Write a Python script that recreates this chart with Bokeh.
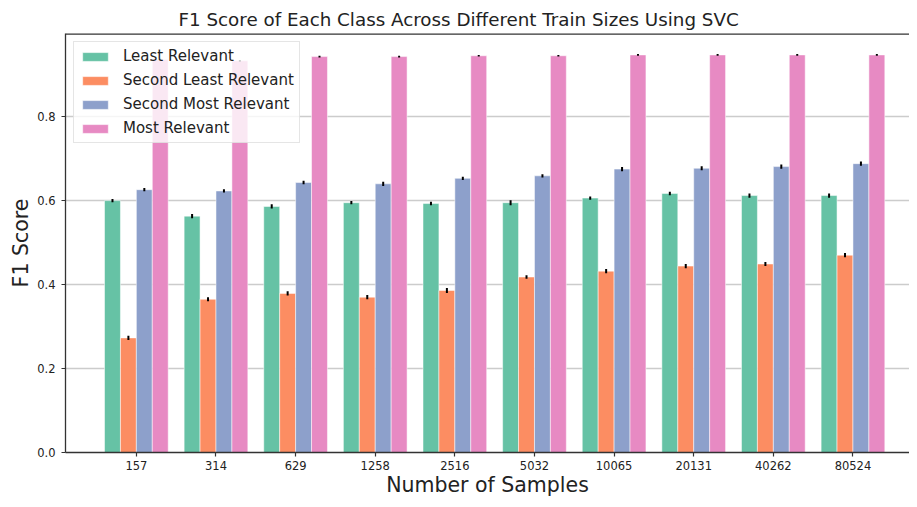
from bokeh.plotting import figure
from bokeh.models import Range1d, FixedTicker, Span, Legend
from bokeh.embed import file_html
from bokeh.resources import INLINE

categories = ["157", "314", "629", "1258", "2516", "5032", "10065", "20131", "40262", "80524"]
series_names = ["Least Relevant", "Second Least Relevant", "Second Most Relevant", "Most Relevant"]
least = [0.600, 0.563, 0.586, 0.595, 0.593, 0.595, 0.606, 0.617, 0.612, 0.612]
second_least = [0.273, 0.365, 0.379, 0.370, 0.386, 0.418, 0.432, 0.444, 0.449, 0.470]
second_most = [0.626, 0.623, 0.643, 0.640, 0.653, 0.659, 0.675, 0.677, 0.681, 0.688]
most = [0.936, 0.933, 0.943, 0.943, 0.945, 0.945, 0.947, 0.947, 0.947, 0.947]
least_err = [0.004, 0.005, 0.005, 0.004, 0.004, 0.006, 0.004, 0.004, 0.005, 0.005]
second_least_err = [0.005, 0.005, 0.005, 0.005, 0.006, 0.004, 0.005, 0.005, 0.005, 0.005]
second_most_err = [0.004, 0.004, 0.004, 0.005, 0.004, 0.004, 0.005, 0.005, 0.005, 0.005]
most_err = [0.002, 0.002, 0.002, 0.002, 0.002, 0.002, 0.002, 0.002, 0.002, 0.002]
colors = ["#66c2a5", "#fc8d62", "#8da0cb", "#e78ac3"]
y_ticks = [0.0, 0.2, 0.4, 0.6, 0.8]
title_text = "F1 Score of Each Class Across Different Train Sizes Using SVC"
x_label = "Number of Samples"
y_label = "F1 Score"

FONT = "DejaVu Sans"
bar_w = 0.2
x_start, x_end = -0.89, 9.71
y_start, y_end = 0.0, 0.998

p = figure(width=909, height=499, output_backend="svg", toolbar_location=None,
           x_range=Range1d(x_start, x_end), y_range=Range1d(y_start, y_end),
           min_border_left=65, min_border_right=0, min_border_bottom=45, min_border_top=33)

p.title.text = title_text
p.title.align = "left"
p.title.offset = 113
p.title.standoff = 8
p.title.text_font = FONT
p.title.text_font_size = "18.3px"
p.title.text_font_style = "normal"
p.title.text_color = "#222222"

series = [least, second_least, second_most, most]
errs = [least_err, second_least_err, second_most_err, most_err]
renderers = []
for k, (vals, col, name) in enumerate(zip(series, colors, series_names)):
    xs = [i + (k - 1.5) * bar_w for i in range(len(categories))]
    r = p.vbar(x=xs, top=vals, width=bar_w, fill_color=col, line_color="white",
               line_alpha=0.5, line_width=1)
    renderers.append((name, [r]))
for k, (vals, ev) in enumerate(zip(series, errs)):
    xs = [i + (k - 1.5) * bar_w for i in range(len(categories))]
    p.segment(x0=xs, y0=[v - e for v, e in zip(vals, ev)], x1=xs,
              y1=[v + e for v, e in zip(vals, ev)], line_color="black", line_width=2)

legend = Legend(items=renderers, location="top_left", margin=8, padding=5,
                spacing=6, label_height=18, glyph_width=32, glyph_height=11,
                label_standoff=12, label_text_font=FONT, label_text_font_size="15px",
                label_text_color="#222222", background_fill_alpha=0.8,
                border_line_color="#cccccc", border_line_width=1)
p.add_layout(legend)

p.xgrid.grid_line_color = None
p.ygrid.grid_line_color = "#cccccc"
p.ygrid.grid_line_width = 1.3
p.ygrid.ticker = FixedTicker(ticks=y_ticks)

p.xaxis.ticker = FixedTicker(ticks=list(range(len(categories))))
p.xaxis.major_label_overrides = {i: c for i, c in enumerate(categories)}
p.yaxis.ticker = FixedTicker(ticks=y_ticks)
p.yaxis.major_label_overrides = {t: f"{t:.1f}" for t in y_ticks}

for ax in (p.xaxis[0], p.yaxis[0]):
    ax.axis_line_color = "#333333"
    ax.axis_line_width = 1.3
    ax.major_tick_line_color = "#333333"
    ax.major_tick_line_width = 1.2
    ax.major_tick_out = 4
    ax.major_tick_in = 0
    ax.minor_tick_line_color = None
    ax.major_label_text_font = FONT
    ax.major_label_text_font_size = "11.5px"
    ax.major_label_text_color = "#222222"
    ax.axis_label_text_font = FONT
    ax.axis_label_text_font_size = "20.5px"
    ax.axis_label_text_font_style = "normal"
    ax.axis_label_text_color = "#222222"

p.xaxis.axis_label = x_label
p.yaxis.axis_label = y_label
p.xaxis.major_label_standoff = 4
p.xaxis.axis_label_standoff = 0
p.yaxis.major_label_standoff = 6
p.yaxis.axis_label_standoff = 1

p.outline_line_color = None
p.add_layout(Span(location=y_end, dimension="width", line_color="#333333", line_width=2.5))

open("out.html", "w").write(file_html(p, INLINE))
